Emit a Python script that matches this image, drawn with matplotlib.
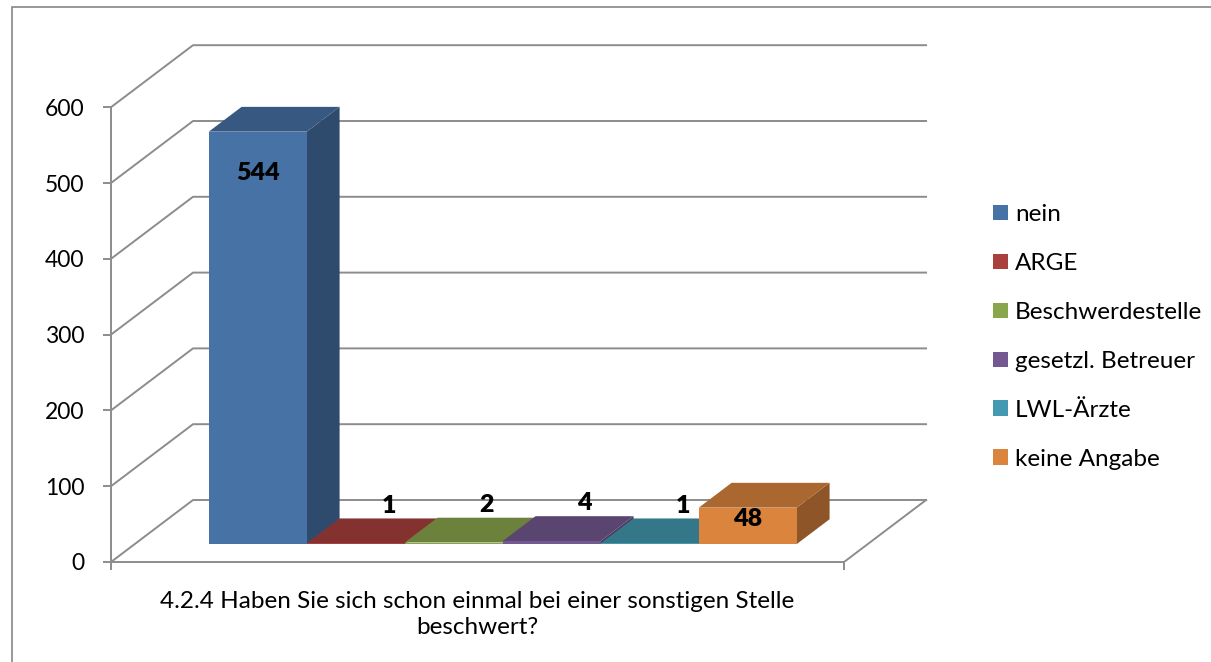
import matplotlib.pyplot as plt
import numpy as np
from matplotlib.patches import Polygon, Patch, Rectangle
from matplotlib.colors import to_rgb

# data
categories = ['nein', 'ARGE', 'Beschwerdestelle', 'gesetzl. Betreuer', 'LWL-Ärzte', 'keine Angabe']
values = [544, 1, 2, 4, 1, 48]
colors = ['#4672A6', '#A9403D', '#8AA64C', '#735891', '#4399AF', '#DB843D']
y_ticks = [0, 100, 200, 300, 400, 500, 600]
x_title = '4.2.4 Haben Sie sich schon einmal bei einer sonstigen Stelle\nbeschwert?'

plt.rcParams['font.family'] = ['Lato', 'DejaVu Sans']

W, H = 1211, 662
fig = plt.figure(figsize=(W / 100, H / 100), dpi=100)
ax = fig.add_axes([111 / W, 100 / H, 817 / W, 518 / H])

# fake 3D: back wall shifted by (DX, DY) in data units
DX, DY = 0.837, 81.8
F0, F1 = 0.29, 0.69          # depth of bar front / back face
x0, x1 = -1.255, 6.225       # floor front edge
ax.set_xlim(x0, x0 + 817 / 98)
ax.set_ylim(0, 518 / 0.758)

grid = '#8c8c8c'
for v in y_ticks:
    ax.plot([x0, x0 + DX, x1 + DX], [v, v + DY, v + DY], color=grid, lw=1.4, zorder=1)
ax.plot([x1, x1 + DX], [0, DY], color=grid, lw=1.4, zorder=1)

for s in ['top', 'right']:
    ax.spines[s].set_visible(False)
ax.spines['left'].set_bounds(0, 600)
ax.spines['bottom'].set_bounds(x0, x1)
for s in ['left', 'bottom']:
    ax.spines[s].set_color(grid)
    ax.spines[s].set_linewidth(1.4)
ax.set_yticks(y_ticks)
ax.set_xticks([x0, x1])
ax.set_xticklabels([])
ax.tick_params(axis='both', direction='out', length=6, width=1.4, color=grid)
ax.tick_params(axis='y', labelsize=16.5, pad=13)
ax.patch.set_visible(False)


def shade(c, f):
    return tuple(np.array(to_rgb(c)) * f)


for i, (v, c) in enumerate(zip(values, colors)):
    l, r = i - 0.5, i + 0.5
    fx, fy = F0 * DX, F0 * DY
    bx, by = F1 * DX, F1 * DY
    side = [(r + fx, fy), (r + fx, fy + v), (r + bx, by + v), (r + bx, by)]
    top = [(l + fx, fy + v), (r + fx, fy + v), (r + bx, by + v), (l + bx, by + v)]
    front = [(l + fx, fy), (r + fx, fy), (r + fx, fy + v), (l + fx, fy + v)]
    ax.add_patch(Polygon(side, closed=True, fc=shade(c, 0.65), ec='none', zorder=3))
    ax.add_patch(Polygon(top, closed=True, fc=shade(c, 0.78), ec='none', zorder=3))
    ax.add_patch(Polygon(front, closed=True, fc=c, ec='none', zorder=3))

    if v > 100:
        lx, ly = i + fx, fy + v - 54
    elif v > 20:
        lx, ly = i + fx, fy + v - 15
    else:
        lx, ly = i + bx, by + v + 17
    ax.text(lx, ly, str(v), ha='center', va='center', fontsize=18,
            fontweight='heavy', color='black', zorder=5)

ax.annotate(x_title, xy=((x0 + x1) / 2, 0), xycoords='data',
            xytext=(0, -21), textcoords='offset points',
            ha='center', va='top', fontsize=17.5, linespacing=1.3)

handles = [Patch(facecolor=c, edgecolor='none', label=n) for n, c in zip(categories, colors)]
ax.legend(handles=handles, loc='center left', bbox_to_anchor=(971 / W, 1 - 337 / H),
          bbox_transform=fig.transFigure, frameon=False, fontsize=17.5,
          handlelength=0.62, handleheight=0.62, handletextpad=0.3, labelspacing=1.15)

# chart border
fig.patches.append(Rectangle((12 / W, -0.05), 1.0, 1.05 - 7 / H, transform=fig.transFigure,
                             fill=False, ec='#868686', lw=1.2))

fig.savefig('out.png', dpi=100)
